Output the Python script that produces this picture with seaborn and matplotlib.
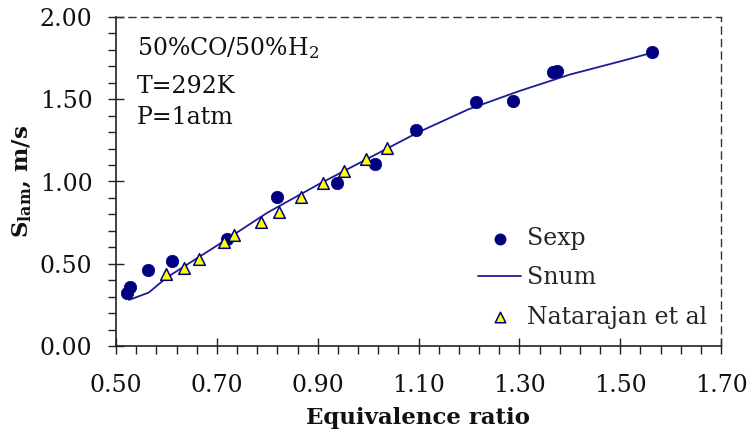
import numpy as np
import pandas as pd
import matplotlib
matplotlib.use("Agg")
import matplotlib.pyplot as plt
from matplotlib.ticker import FixedLocator, FormatStrFormatter, MultipleLocator
import seaborn as sns

# Measured laminar flame speeds (Sexp)
sexp_phi = [0.521, 0.528, 0.563, 0.612, 0.720, 0.819, 0.938, 1.013, 1.096,
            1.214, 1.288, 1.366, 1.375, 1.563]
sexp_s = [0.32, 0.36, 0.462, 0.519, 0.650, 0.904, 0.991, 1.104, 1.313,
          1.483, 1.491, 1.664, 1.674, 1.785]

# Computed flame speeds (Snum)
snum_phi = [0.526, 0.565, 0.60, 0.70, 0.80, 0.90, 1.00, 1.10, 1.20, 1.30,
            1.40, 1.50, 1.56]
snum_s = [0.28, 0.325, 0.415, 0.61, 0.81, 0.98, 1.14, 1.30, 1.44, 1.55,
          1.65, 1.73, 1.78]

# Natarajan et al. data
nat_phi = [0.600, 0.635, 0.665, 0.715, 0.734, 0.787, 0.823, 0.866, 0.910,
           0.953, 0.996, 1.037]
nat_s = [0.436, 0.472, 0.531, 0.634, 0.673, 0.756, 0.813, 0.908, 0.993,
         1.062, 1.139, 1.202]

x_ticks = [0.50, 0.70, 0.90, 1.10, 1.30, 1.50, 1.70]
y_ticks = [0.00, 0.50, 1.00, 1.50, 2.00]

sns.set_style("white")
plt.rcParams["font.family"] = ["DejaVu Serif"]
plt.rcParams["mathtext.fontset"] = "dejavuserif"

df_exp = pd.DataFrame({"phi": sexp_phi, "s": sexp_s})
df_num = pd.DataFrame({"phi": snum_phi, "s": snum_s})
df_nat = pd.DataFrame({"phi": nat_phi, "s": nat_s})

fig = plt.figure(figsize=(7.49, 4.36), dpi=100)
ax = fig.add_axes([116 / 749, 1 - 346 / 436, (721 - 116) / 749, (346 - 17) / 436])

navy = "#000080"
sns.scatterplot(data=df_exp, x="phi", y="s", ax=ax, s=80, color=navy,
                edgecolor=navy, linewidth=0.5, label="Sexp", zorder=3)
sns.lineplot(data=df_num, x="phi", y="s", ax=ax, color="#1c1c96", lw=1.3,
             label="Snum", zorder=2, sort=False)
sns.scatterplot(data=df_nat, x="phi", y="s", ax=ax, marker="^", s=70,
                color="#ffff00", edgecolor=navy, linewidth=1.1,
                label="Natarajan et al", zorder=4)

ax.set_xlim(x_ticks[0], x_ticks[-1])
ax.set_ylim(y_ticks[0], y_ticks[-1])
ax.xaxis.set_major_locator(FixedLocator(x_ticks))
ax.xaxis.set_minor_locator(FixedLocator(np.arange(0.5, 1.7001, 0.04)))
ax.yaxis.set_major_locator(FixedLocator(y_ticks))
ax.yaxis.set_minor_locator(MultipleLocator(0.1))
ax.xaxis.set_major_formatter(FormatStrFormatter("%.2f"))
ax.yaxis.set_major_formatter(FormatStrFormatter("%.2f"))

ax.tick_params(axis="both", which="major", direction="inout", length=12,
               width=1, color="#222222", labelsize=17, labelcolor="#111111",
               bottom=True, left=True)
ax.tick_params(axis="both", which="minor", direction="out", length=6,
               width=1, color="#222222", bottom=True, left=True)
ax.tick_params(axis="x", which="major", pad=14)
ax.tick_params(axis="y", which="major", pad=11)

for side in ["left", "bottom"]:
    ax.spines[side].set_color("#222222")
    ax.spines[side].set_linewidth(1.2)
for side in ["top", "right"]:
    ax.spines[side].set_color("#333333")
    ax.spines[side].set_linewidth(1.0)
    ax.spines[side].set_linestyle((0, (5, 4)))

ax.set_xlabel("Equivalence ratio", fontsize=16.5, fontweight="bold",
              labelpad=7, color="#111111")
ax.set_ylabel(r"$\mathbf{S}_{\mathbf{lam}}$, m/s", fontsize=16.5,
              fontweight="bold", labelpad=4, color="#111111")

ax.text(0.035, 0.885, r"50%CO/50%H$_2$", transform=ax.transAxes,
        fontsize=17, va="baseline", color="#111111")
ax.text(0.035, 0.769, "T=292K", transform=ax.transAxes, fontsize=17,
        va="baseline", color="#111111")
ax.text(0.035, 0.675, "P=1atm", transform=ax.transAxes, fontsize=17,
        va="baseline", color="#111111")

leg = ax.legend(loc="lower right", bbox_to_anchor=(1.0, 0.01), frameon=False,
                fontsize=17, handlelength=1.8, handletextpad=0.25,
                labelspacing=0.68, markerscale=0.9, borderaxespad=0.2)

fig.savefig("out.png", dpi=100, facecolor="white")
